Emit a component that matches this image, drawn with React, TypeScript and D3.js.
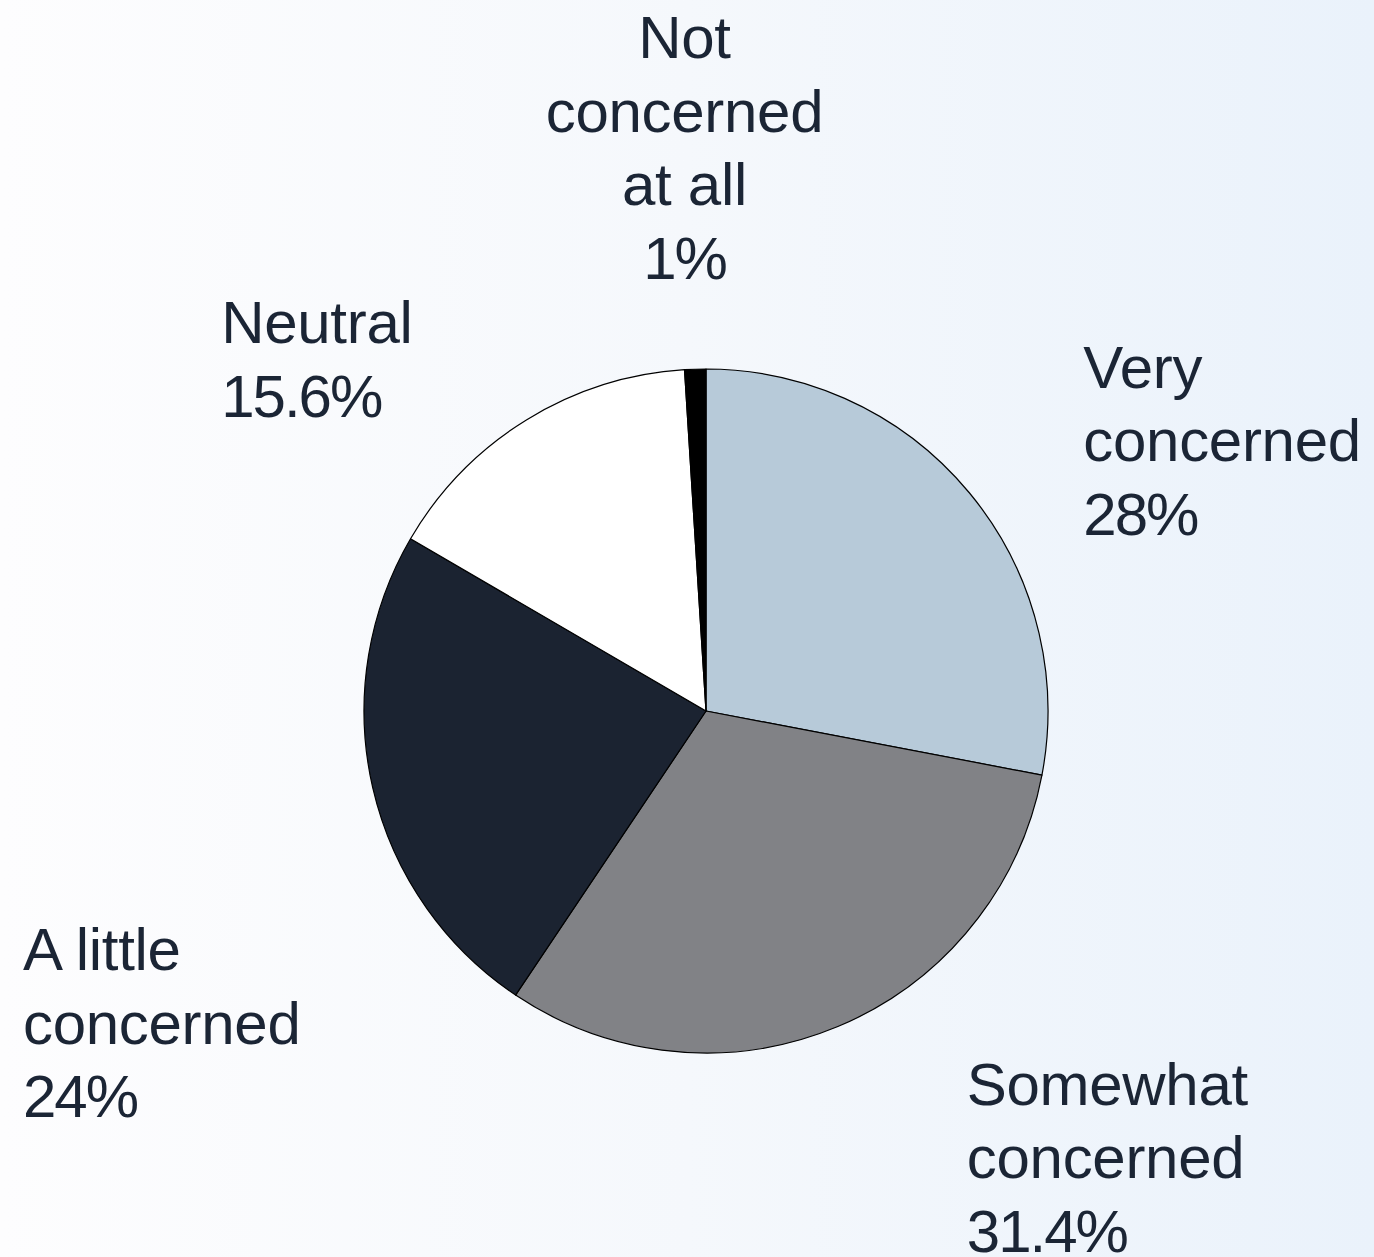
import React from "react";
import * as d3 from "d3";

const categories = ["Very concerned", "Somewhat concerned", "A little concerned", "Neutral", "Not concerned at all"];
const values = [28, 31.4, 24, 15.6, 1];
const valueLabels = ["28%", "31.4%", "24%", "15.6%", "1%"];
const labelLines = [
  ["Very", "concerned"],
  ["Somewhat", "concerned"],
  ["A little", "concerned"],
  ["Neutral"],
  ["Not", "concerned", "at all"],
];
const colors = ["#b7cad9", "#818286", "#1b2331", "#ffffff", "#000000"];
// label layout offsets relative to the label-arc centroid (dx, first-baseline dy, anchor)
const labelLayout = [
  { dx: 46, dy: -49, anchor: "start" },
  { dx: 95, dy: -3, anchor: "start" },
  { dx: -264, dy: 163, anchor: "start" },
  { dx: -259, dy: -2, anchor: "start" },
  { dx: -8, dy: -223, anchor: "middle" },
];

const W = 1374;
const H = 1257;
const cx = 706;
const cy = 711;
const R = 342;
const LABEL_R = 430;
const LINE_H = 73.5;

export default function App() {
  const data = categories.map((c, i) => ({ c, v: values[i], i }));
  const pie = d3.pie<any>().value((d) => d.v).sort(null);
  const arcs = pie(data);
  const arc = d3.arc<any>().innerRadius(0).outerRadius(R);
  const labelArc = d3.arc<any>().innerRadius(LABEL_R).outerRadius(LABEL_R);

  return (
    <svg
      width={W}
      height={H}
      style={{ position: "absolute", left: 0, top: 0 }}
      fontFamily="'Liberation Sans', Arial, Helvetica, sans-serif"
    >
      <defs>
        <linearGradient id="bg" x1="0" y1="0" x2="1" y2="0">
          <stop offset="0" stopColor="#fdfdfe" />
          <stop offset="0.5" stopColor="#f5f8fc" />
          <stop offset="1" stopColor="#eaf2fb" />
        </linearGradient>
      </defs>
      <rect x={0} y={0} width={W} height={H} fill="url(#bg)" />
      <g transform={`translate(${cx},${cy})`}>
        {arcs.map((a, i) => (
          <path key={i} d={arc(a) as string} fill={colors[i]} stroke="#000" strokeWidth={1.2} strokeLinejoin="round" />
        ))}
        {arcs.map((a, i) => {
          const [lx, ly] = labelArc.centroid(a);
          const L = labelLayout[i];
          const lines = [...labelLines[i], valueLabels[i]];
          const x = lx + L.dx;
          const y0 = ly + L.dy;
          return (
            <text key={"t" + i} fill="#1b2535" fontSize={60} textAnchor={L.anchor as any}>
              {lines.map((t, j) => (
                <tspan
                  key={j}
                  x={x}
                  y={y0 + j * LINE_H}
                  letterSpacing={j === lines.length - 1 ? -2 : -0.3}
                >
                  {t}
                </tspan>
              ))}
            </text>
          );
        })}
      </g>
    </svg>
  );
}
